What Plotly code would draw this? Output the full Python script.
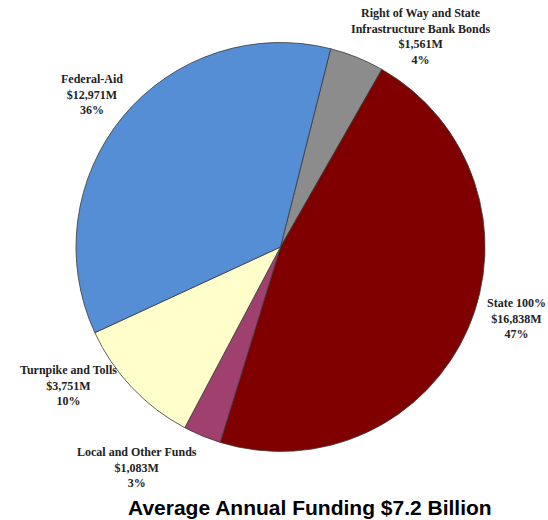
import plotly.graph_objects as go

categories = ["Right of Way and State Infrastructure Bank Bonds", "State 100%",
              "Local and Other Funds", "Turnpike and Tolls", "Federal-Aid"]
values = [1561, 16838, 1083, 3751, 12971]
value_labels = ["$1,561M", "$16,838M", "$1,083M", "$3,751M", "$12,971M"]
pct_labels = ["4%", "47%", "3%", "10%", "36%"]
colors = ["#8C8C8C", "#800000", "#A0406E", "#FFFFCC", "#558ED5"]

W, H = 548, 520
cx, cy, r = 280.5, 247, 204.5

fig = go.Figure(go.Pie(
    labels=categories, values=values, sort=False, direction="clockwise",
    rotation=14.2, textinfo="none", hoverinfo="label+value+percent",
    marker=dict(colors=colors, line=dict(color="#3a3a3a", width=0.8)),
    domain=dict(x=[(cx - r) / W, (cx + r) / W], y=[1 - (cy + r) / H, 1 - (cy - r) / H]),
    showlegend=False,
))

label_text = [
    "Right of Way and State<br>Infrastructure Bank Bonds<br>" + value_labels[0] + "<br>" + pct_labels[0],
    "State 100%<br>" + value_labels[1] + "<br>" + pct_labels[1],
    "Local and Other Funds<br>" + value_labels[2] + "<br>" + pct_labels[2],
    "Turnpike and Tolls<br>" + value_labels[3] + "<br>" + pct_labels[3],
    "Federal-Aid<br>" + value_labels[4] + "<br>" + pct_labels[4],
]
label_pos = [(420, 37), (516, 318), (137, 467), (68, 385), (92, 94)]

for t, (px, py) in zip(label_text, label_pos):
    fig.add_annotation(x=px / W, y=1 - py / H, xref="paper", yref="paper",
                       text="<b>" + t + "</b>", showarrow=False, xanchor="center", yanchor="middle",
                       align="center",
                       font=dict(family="Liberation Serif", size=12, color="#222222"))

fig.add_annotation(x=310 / W, y=1 - 507 / H, xref="paper", yref="paper",
                   text="<b>Average Annual Funding $7.2 Billion</b>", showarrow=False,
                   xanchor="center", yanchor="middle",
                   font=dict(family="Liberation Sans", size=21, color="#000000"))

fig.update_layout(width=W, height=H, margin=dict(l=0, r=0, t=0, b=0),
                  paper_bgcolor="white", plot_bgcolor="white")

fig.write_html("out.html")
